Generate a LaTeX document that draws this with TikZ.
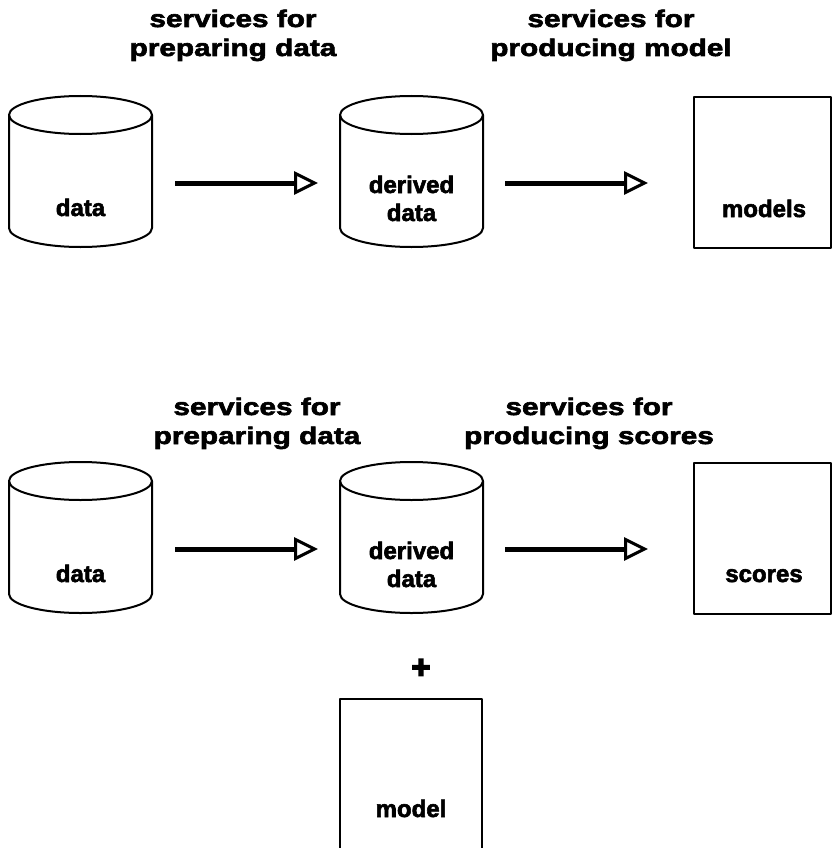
\documentclass[tikz,border=0pt]{standalone}
\usepackage{fontspec}
\setmainfont{Liberation Sans}
\newfontfamily\titlefont{Liberation Sans}[FakeStretch=1.24,FakeBold=2.6]
\newfontfamily\labelfont{Liberation Sans}[FakeBold=2.4]
\newfontfamily\plusfont{Liberation Sans}[FakeBold=5]
\usetikzlibrary{arrows.meta}
\newcommand\drumshape[4]{% left x, right x, top-ellipse y, bottom-ellipse y
  \pgfmathsetmacro\drumcx{(#1+#2)/2}%
  \pgfmathsetmacro\drumrx{(#2-#1)/2}%
  \draw[outline] (#1,#3) -- (#1,#4) arc[start angle=180,end angle=360,x radius=\drumrx pt,y radius=19pt] -- (#2,#3);
  \draw[outline] (\drumcx,#3) ellipse[x radius=\drumrx pt,y radius=19pt];
}
\begin{document}
\begin{tikzpicture}[x=1pt,y=-1pt,
  outline/.style={line width=2pt,line join=round},
  title/.style={font=\titlefont\bfseries\fontsize{24}{28}\selectfont,anchor=base,inner sep=0pt},
  lbl/.style={font=\labelfont\bfseries\fontsize{24}{28}\selectfont,anchor=base,inner sep=0pt},
  flow/.style={line width=5pt,-{Triangle[open,length=24pt,width=23pt,line width=3pt]}}]
\useasboundingbox (0,0) rectangle (832,848);
\clip (0,0) rectangle (832,848);
\fill[white] (0,0) rectangle (832,848);

% ---------- top row ----------
\node[title] (t1a) at (233,27) {services for};
\node[title] (t1b) at (233,56) {preparing data};
\node[title] (t2a) at (611,27) {services for};
\node[title] (t2b) at (611,56) {producing model};

\drumshape{9}{152}{115}{228}
\drumshape{340}{483}{115}{228}
\draw[outline] (694,97) rectangle (831,248);

\node[lbl] (d1) at (80.5,216) {data};
\node[lbl] (dd1a) at (411.5,193) {derived};
\node[lbl] (dd1b) at (411.5,221) {data};
\node[lbl] (m1) at (764,217) {models};

\coordinate (a1s) at (175,183);
\coordinate (a1e) at (318,183);
\coordinate (a2s) at (505,183);
\coordinate (a2e) at (648,183);
\draw[flow] (a1s) -- (a1e);
\draw[flow] (a2s) -- (a2e);

% ---------- bottom row ----------
\node[title] (t3a) at (257,415) {services for};
\node[title] (t3b) at (257,444) {preparing data};
\node[title] (t4a) at (589,415) {services for};
\node[title] (t4b) at (589,444) {producing scores};

\drumshape{9}{152}{481}{594}
\drumshape{340}{483}{481}{594}
\draw[outline] (694,463) rectangle (831,614);

\node[lbl] (d2) at (80.5,582) {data};
\node[lbl] (dd2a) at (411.5,559) {derived};
\node[lbl] (dd2b) at (411.5,587) {data};
\node[lbl] (s2) at (764,582) {scores};

\coordinate (b1s) at (175,549);
\coordinate (b1e) at (318,549);
\coordinate (b2s) at (505,549);
\coordinate (b2e) at (648,549);
\draw[flow] (b1s) -- (b1e);
\draw[flow] (b2s) -- (b2e);

\node[lbl,font=\plusfont\bfseries\fontsize{32}{32}\selectfont] (plus) at (421,678) {+};
\draw[outline] (340,860) -- (340,699) -- (482,699) -- (482,860);
\node[lbl] (mdl) at (411,817) {model};
\end{tikzpicture}
\end{document}
